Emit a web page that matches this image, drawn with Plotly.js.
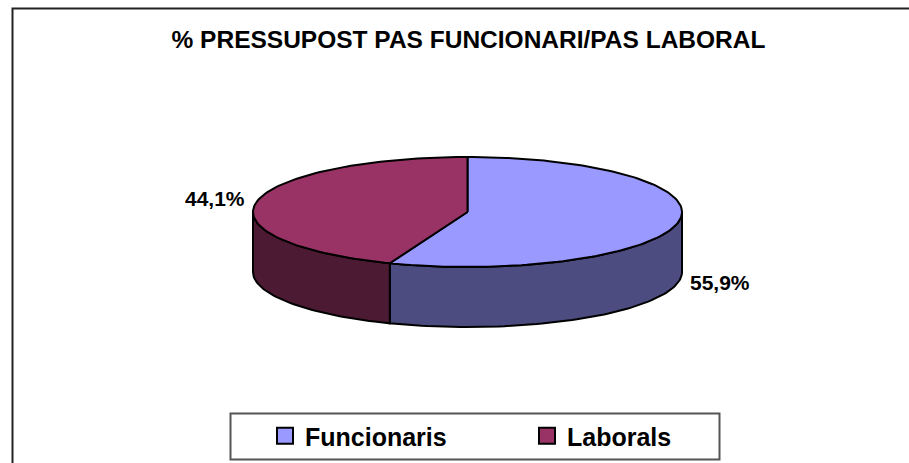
<!DOCTYPE html>
<html><head><meta charset="utf-8">
<script src="https://cdn.plot.ly/plotly-3.0.1.min.js"></script>
<style>html,body{margin:0;padding:0;background:#fff}#chart{width:909px;height:463px}</style>
</head><body><div id="chart"></div>
<script>
const categories = ['Funcionaris', 'Laborals'];
const values = [55.9, 44.1];
const labelTexts = ['55,9%', '44,1%'];
const topColors = ['#9999FF', '#993366'];
const sideColors = ['#4C4C80', '#4D1A33'];

const W = 909, H = 463;
const cx = 467.5, cy = 212, rx = 214.5, ry = 55, depth = 60;
function pt(deg, dy) { const r = deg * Math.PI / 180; return [cx + rx * Math.sin(r), cy - ry * Math.cos(r) + (dy || 0)]; }
function arc(a0, a1, dy) {
  const n = Math.max(2, Math.ceil(Math.abs(a1 - a0) / 1.5)); const xs = [], ys = [];
  for (let i = 0; i <= n; i++) { const p = pt(a0 + (a1 - a0) * i / n, dy); xs.push(p[0]); ys.push(p[1]); }
  return [xs, ys];
}
const total = values.reduce((a, b) => a + b, 0);
let start = 0; const slices = [];
values.forEach((v, i) => { const sw = v / total * 360; slices.push({ i, a0: start, a1: start + sw }); start += sw; });

const traces = [];
slices.forEach(s => {
  const lo = Math.max(s.a0, 90), hi = Math.min(s.a1, 270);
  if (hi > lo) {
    const [tx, ty] = arc(lo, hi, 0); const [bx, by] = arc(hi, lo, depth);
    traces.push({ type: 'scatter', mode: 'lines', x: [...tx, ...bx, tx[0]], y: [...ty, ...by, ty[0]], fill: 'toself',
      fillcolor: sideColors[s.i], line: { color: '#000', width: 2 }, hoverinfo: 'skip', showlegend: false });
  }
});
slices.forEach(s => {
  const [ax, ay] = arc(s.a0, s.a1, 0);
  traces.push({ type: 'scatter', mode: 'lines', x: [cx, ...ax, cx], y: [cy, ...ay, cy], fill: 'toself',
    fillcolor: topColors[s.i], line: { color: '#000', width: 2 }, name: categories[s.i], hoverinfo: 'name', showlegend: false });
});
categories.forEach((c, i) => {
  traces.push({ type: 'scatter', mode: 'markers', x: [null], y: [null], name: c,
    marker: { symbol: 'square', size: 16, color: topColors[i], line: { color: '#000', width: 2 } } });
});

const annotations = slices.map(s => {
  const mid = (s.a0 + s.a1) / 2; const p = pt(mid, 0);
  const right = Math.sin(mid * Math.PI / 180) > 0;
  const front = mid > 90 && mid < 270;
  return { x: p[0] + (right ? 10 : -10), y: p[1] + (front ? depth : -3), xref: 'x', yref: 'y',
    text: '<b>' + labelTexts[s.i] + '</b>', showarrow: false, xanchor: right ? 'left' : 'right', yanchor: 'middle',
    font: { family: 'Liberation Sans, Arial, sans-serif', size: 21, color: '#000' } };
});

const layout = {
  width: W, height: H, margin: { l: 0, r: 0, t: 0, b: 0 },
  paper_bgcolor: '#fff', plot_bgcolor: '#fff',
  xaxis: { range: [0, W], visible: false, fixedrange: true },
  yaxis: { range: [H, 0], visible: false, fixedrange: true },
  title: { text: '<b>% PRESSUPOST PAS FUNCIONARI/PAS LABORAL</b>', x: 468.5 / W, xanchor: 'center', y: 1 - 39 / H, yanchor: 'middle',
    font: { family: 'Liberation Sans, Arial, sans-serif', size: 24.5, color: '#000' } },
  showlegend: true,
  legend: { orientation: 'h', x: 265 / W, xanchor: 'left', y: 1 - 436 / H, yanchor: 'middle',
    borderwidth: 0, bgcolor: 'rgba(0,0,0,0)', entrywidth: 217,
    font: { family: 'Liberation Sans, Arial, sans-serif', size: 25, color: '#000', weight: 'bold' } },
  shapes: [
    { type: 'rect', xref: 'x', yref: 'y', x0: 12.5, y0: 8.5, x1: W + 10, y1: H + 10, line: { color: '#222', width: 2 } },
    { type: 'rect', xref: 'x', yref: 'y', x0: 230.5, y0: 413.5, x1: 719.5, y1: 459.5, line: { color: '#555', width: 2 }, layer: 'below' }
  ],
  annotations: annotations
};
Plotly.newPlot('chart', traces, layout, { displayModeBar: false, staticPlot: true });
</script></body></html>
